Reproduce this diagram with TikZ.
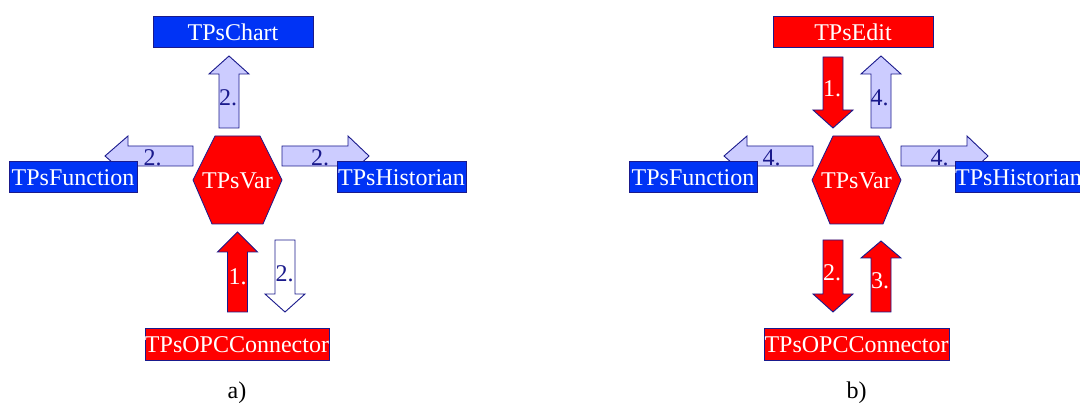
\documentclass[tikz,border=0pt]{standalone}
\usepackage{fontspec}
\setmainfont{Liberation Serif}
\usetikzlibrary{calc}

\definecolor{boxblue}{RGB}{0,51,245}
\definecolor{outline}{RGB}{26,26,140}
\definecolor{lav}{RGB}{204,204,255}
\definecolor{hot}{RGB}{255,0,0}

% Block arrow from tail coordinate to tip coordinate; #4 = head length
\newcommand\blockarrow[5]{%
  \coordinate (#5-t) at #2;
  \coordinate (#5-h) at #3;
  \coordinate (#5-b) at ($(#5-h)!#4!(#5-t)$);
  \draw[#1] ($(#5-t)!10pt!90:(#5-h)$) -- ($(#5-b)!10pt!-90:(#5-t)$)
    -- ($(#5-b)!20pt!-90:(#5-t)$) -- (#5-h)
    -- ($(#5-b)!20pt!90:(#5-t)$) -- ($(#5-b)!10pt!90:(#5-t)$)
    -- ($(#5-t)!10pt!-90:(#5-h)$) -- cycle;
}

\begin{document}
\begin{tikzpicture}[x=1pt,y=-1pt,
  font=\fontsize{24}{26}\selectfont,
  every node/.style={inner sep=0pt, text height=20pt, text depth=2.6pt},
  classbox/.style={draw=outline, line width=0.8pt, text=white,
    minimum height=31pt},
  bluebox/.style={classbox, fill=boxblue},
  redbox/.style={classbox, fill=hot},
  hexshape/.style={draw=outline, line width=0.8pt, fill=hot},
  lavarrow/.style={draw=outline, line width=0.9pt, fill=lav},
  redarrow/.style={draw=outline, line width=0.9pt, fill=hot},
  whitearrow/.style={draw=outline, line width=0.9pt, fill=white},
  navylabel/.style={text=outline, anchor=base},
  whitelabel/.style={text=white, anchor=base},
  caption/.style={text=black, anchor=base}]

\clip (0,0) rectangle (1080,403);
\fill[white] (0,0) rectangle (1080,403);

% ---------------- a) ----------------
\draw[hexshape] (193,180) -- (215,136) -- (260,136) -- (282,180)
  -- (263,224) -- (212,224) -- cycle;
\node[text=white] (varA) at (237.5,180) {TPsVar};

\node[bluebox, minimum width=160pt] (chartA) at (233,32) {TPsChart};
\node[bluebox, minimum width=128pt] (funcA) at (73,176.5) {TPsFunction};
\node[bluebox, minimum width=129pt] (histA) at (401.5,176.5) {TPsHistorian};
\node[redbox, minimum width=184pt, minimum height=32pt] (opcA) at (237,344) {TPsOPCConnector};

\blockarrow{lavarrow}{(229,128)}{(229,56)}{18pt}{aUp}
\blockarrow{lavarrow}{(193,156)}{(105,156)}{23pt}{aLeft}
\blockarrow{lavarrow}{(282,156)}{(369,156)}{21pt}{aRight}
\blockarrow{redarrow}{(237.5,312)}{(237.5,232)}{20pt}{aIn}
\blockarrow{whitearrow}{(285,240)}{(285,312)}{18pt}{aOut}

% boxes drawn again over the arrow heads they cover
\node[bluebox, minimum width=128pt] at (funcA) {TPsFunction};
\node[bluebox, minimum width=129pt] at (histA) {TPsHistorian};

\node[navylabel] (lA1) at (228,106) {2.};
\node[navylabel] (lA2) at (152.5,166) {2.};
\node[navylabel] (lA3) at (320,166) {2.};
\node[whitelabel] (lA4) at (237.5,285) {1.};
\node[navylabel] (lA5) at (284.5,282) {2.};

\node[caption] (capA) at (237,399) {a)};

% ---------------- b) ----------------
\draw[hexshape] (812,180) -- (833,136) -- (879,136) -- (901,180)
  -- (883,224) -- (830,224) -- cycle;
\node[text=white] (varB) at (856.5,180) {TPsVar};

\node[redbox, minimum width=160pt] (editB) at (853,32) {TPsEdit};
\node[bluebox, minimum width=128pt] (funcB) at (693,176.5) {TPsFunction};
\node[bluebox, minimum width=125pt] (histB) at (1018.5,176.5) {TPsHistorian};
\node[redbox, minimum width=185pt, minimum height=32pt] (opcB) at (856.5,344) {TPsOPCConnector};

\blockarrow{redarrow}{(833,57)}{(833,128)}{18pt}{bIn}
\blockarrow{lavarrow}{(881,128)}{(881,56)}{18pt}{bUp}
\blockarrow{lavarrow}{(813,156)}{(724,156)}{23pt}{bLeft}
\blockarrow{lavarrow}{(901,156)}{(988,156)}{21pt}{bRight}
\blockarrow{redarrow}{(833,240)}{(833,312)}{18pt}{bDown}
\blockarrow{redarrow}{(881,312)}{(881,241)}{17pt}{bBack}

\node[bluebox, minimum width=128pt] at (funcB) {TPsFunction};
\node[bluebox, minimum width=125pt] at (histB) {TPsHistorian};

\node[whitelabel] (lB1) at (832,97) {1.};
\node[navylabel] (lB2) at (879.5,106) {4.};
\node[navylabel] (lB3) at (771.5,166) {4.};
\node[navylabel] (lB4) at (939.5,166) {4.};
\node[whitelabel] (lB5) at (832,281) {2.};
\node[whitelabel] (lB6) at (880,289) {3.};

\node[caption] (capB) at (856.5,399) {b)};
\end{tikzpicture}
\end{document}
